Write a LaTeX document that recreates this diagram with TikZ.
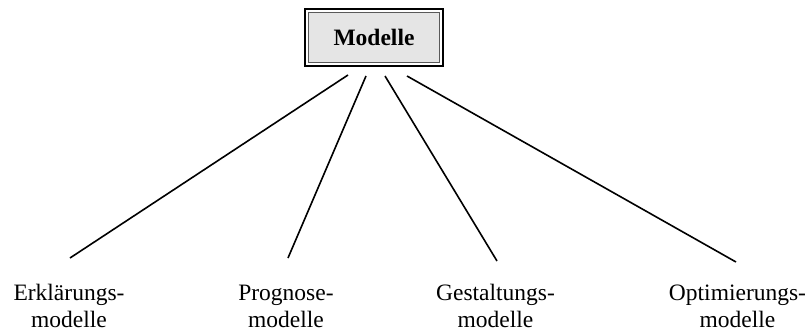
\documentclass[tikz,border=0pt]{standalone}
\usepackage{fontspec}
\setmainfont{Liberation Serif}
\begin{document}
\begin{tikzpicture}[x=1pt, y=-1pt,
    outerbox/.style={draw=black, line width=1.4pt, fill=white,
      minimum width=138pt, minimum height=57pt, inner sep=0pt},
    innerbox/.style={draw=black!65, line width=1.1pt, fill=black!10,
      minimum width=131pt, minimum height=50pt, inner sep=0pt,
      font=\fontsize{23.5}{27}\selectfont\bfseries},
    label/.style={align=center, inner sep=0pt, anchor=base,
      font=\fontsize{23.5}{27}\selectfont},
    link/.style={line width=1.6pt}]
  \useasboundingbox (0,0) rectangle (810,332);

  % root box with a double frame
  \node[outerbox] (box) at (374,37.5) {};
  \node[innerbox] (boxin) at (box.center) {Modelle};

  % leaf labels (anchored at the baseline of their last line)
  \node[label] (l1) at (69,327)    {Erklärungs-\\modelle};
  \node[label] (l2) at (286,327)   {Prognose-\\modelle};
  \node[label] (l3) at (495.5,327) {Gestaltungs-\\modelle};
  \node[label] (l4) at (737.5,327) {Optimierungs-\\modelle};

  % connector ends
  \coordinate (t1) at (348,75);
  \coordinate (t2) at (366,76);
  \coordinate (t3) at (385,76);
  \coordinate (t4) at (407,76);
  \coordinate (e1) at (70,258);
  \coordinate (e2) at (288,258);
  \coordinate (e3) at (497,261);
  \coordinate (e4) at (736,262);

  \draw[link] (t1) -- (e1);
  \draw[link] (t2) -- (e2);
  \draw[link] (t3) -- (e3);
  \draw[link] (t4) -- (e4);
\end{tikzpicture}
\end{document}
